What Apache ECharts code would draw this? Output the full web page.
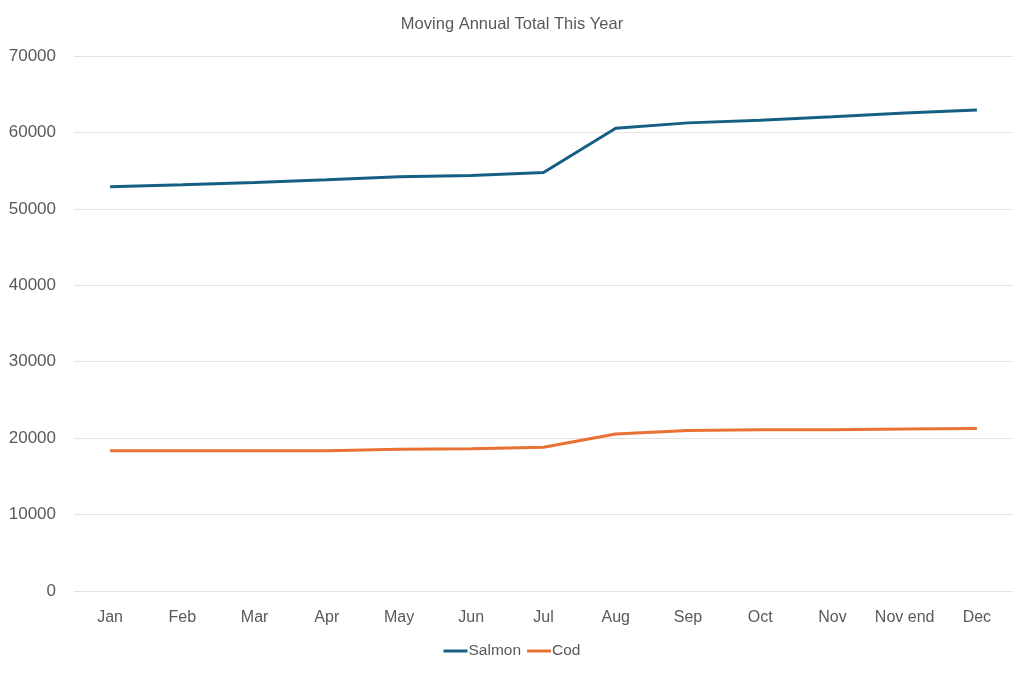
<!DOCTYPE html>
<html><head><meta charset="utf-8">
<script src="https://cdn.jsdelivr.net/npm/echarts@6/dist/echarts.min.js"></script>
<style>html,body{margin:0;padding:0;background:#fff}#c{width:1024px;height:674px}</style>
</head><body><div id="c"></div>
<script>
const categories = ['Jan','Feb','Mar','Apr','May','Jun','Jul','Aug','Sep','Oct','Nov','Nov end','Dec'];
const salmon = [52900, 53150, 53450, 53800, 54200, 54350, 54750, 60550, 61250, 61600, 62050, 62550, 62950];
const cod = [18350, 18350, 18350, 18350, 18550, 18600, 18800, 20550, 21000, 21100, 21100, 21200, 21250];
const yTicks = [0, 10000, 20000, 30000, 40000, 50000, 60000, 70000];

const font = 'Liberation Sans, Arial, sans-serif';
const chart = echarts.init(document.getElementById('c'));
chart.setOption({
  animation: false,
  title: { text: 'Moving Annual Total This Year', left: 'center', top: 11,
    textStyle: { fontFamily: font, fontSize: 16.5, fontWeight: 'normal', color: '#595959' } },
  legend: { bottom: 10, left: 'center', itemWidth: 24, itemHeight: 3, itemGap: 6,
    icon: 'rect',
    textStyle: { fontFamily: font, fontSize: 15.5, color: '#595959', padding: [0,0,0,-4] },
    data: ['Salmon', 'Cod'] },
  grid: { left: 74, right: 11, top: 56, bottom: 83, containLabel: false },
  xAxis: { type: 'category', data: categories, boundaryGap: true,
    axisLine: { show: false }, axisTick: { show: false },
    axisLabel: { fontFamily: font, fontSize: 16, color: '#595959', margin: 19, interval: 0 } },
  yAxis: { type: 'value', min: yTicks[0], max: yTicks[yTicks.length-1], interval: 10000,
    axisLine: { show: false }, axisTick: { show: false },
    splitLine: { lineStyle: { color: '#e3e3e3', width: 1 } },
    axisLabel: { fontFamily: font, fontSize: 17, color: '#595959', margin: 18,
      formatter: v => String(v) } },
  series: [
    { name: 'Salmon', type: 'line', data: salmon, symbol: 'none',
      lineStyle: { color: '#156082', width: 3 }, itemStyle: { color: '#156082' } },
    { name: 'Cod', type: 'line', data: cod, symbol: 'none',
      lineStyle: { color: '#E97132', width: 3 }, itemStyle: { color: '#E97132' } }
  ]
});
</script></body></html>
